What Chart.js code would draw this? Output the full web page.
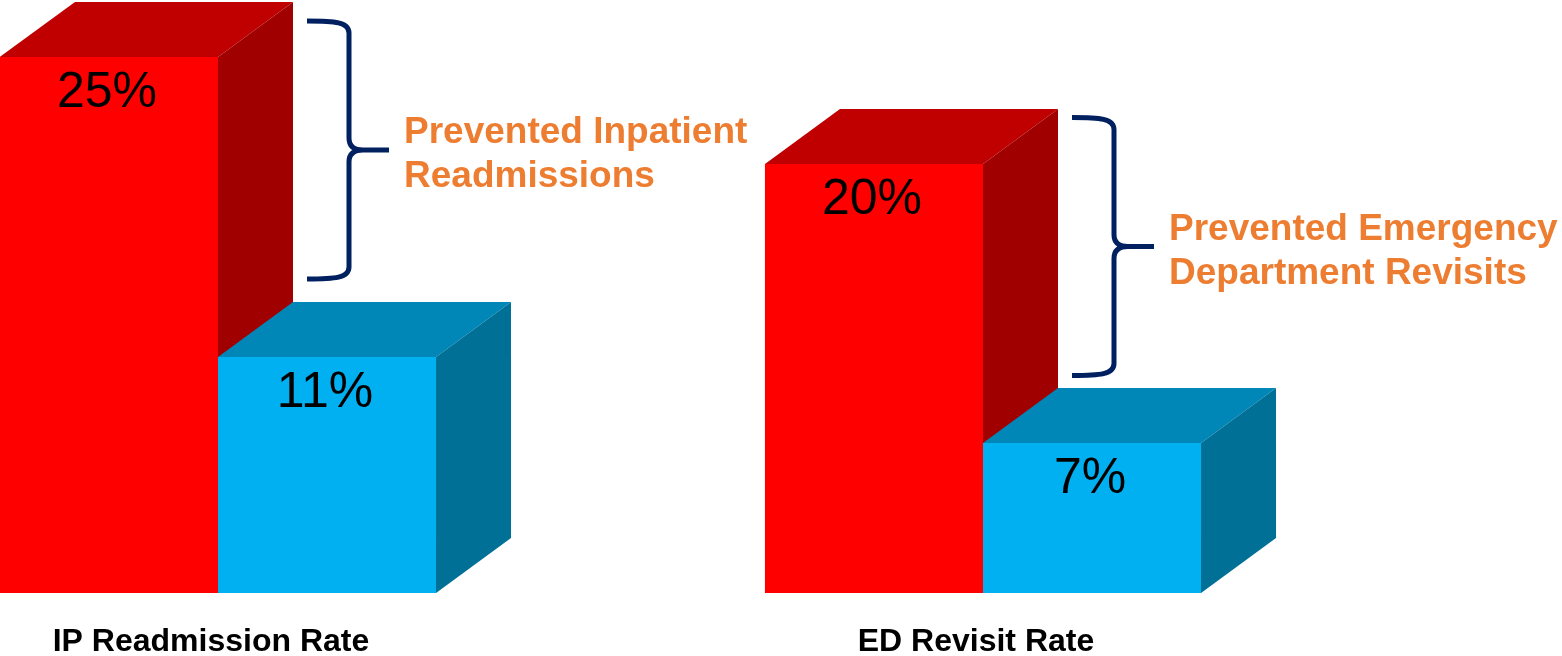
<!DOCTYPE html>
<html>
<head>
<meta charset="utf-8">
<script src="https://cdn.jsdelivr.net/npm/chart.js@4.4.1/dist/chart.umd.min.js"></script>
<style>
  html, body { margin: 0; padding: 0; background: #fff; overflow: hidden; }
  #wrap { width: 1562px; height: 656px; position: relative; }
</style>
</head>
<body>
<div id="wrap"><canvas id="rateChart"></canvas></div>
<script>
// chart data
const categories = ['IP Readmission Rate', 'ED Revisit Rate'];
const beforeRates = [25, 20];
const afterRates = [11, 7];
const braceNotes = [
    ['Prevented Inpatient', 'Readmissions'],
    ['Prevented Emergency', 'Department Revisits']
];

const FONT = '"Liberation Sans", Arial, sans-serif';
const depthX = 75;
const depthY = -55;
const faces = [
    { front: '#FF0000', top: '#C00000', side: '#A00000' },
    { front: '#00B0F0', top: '#0087B7', side: '#007097' }
];

function poly(ctx, pts, color) {
    ctx.fillStyle = color;
    ctx.beginPath();
    ctx.moveTo(pts[0][0], pts[0][1]);
    for (let k = 1; k < pts.length; k++) ctx.lineTo(pts[k][0], pts[k][1]);
    ctx.closePath();
    ctx.fill();
}

function drawBrace(ctx, x0, top, bot, mid) {
    const xv = x0 + 42;   // vertical stroke
    const xt = x0 + 82;   // tip
    ctx.beginPath();
    ctx.moveTo(x0, top);
    ctx.bezierCurveTo(x0 + 28, top, xv, top + 1, xv, top + 12);
    ctx.lineTo(xv, mid - 12);
    ctx.quadraticCurveTo(xv, mid, xv + 14, mid);
    ctx.lineTo(xt, mid);
    ctx.moveTo(xv + 14, mid);
    ctx.quadraticCurveTo(xv, mid, xv, mid + 12);
    ctx.lineTo(xv, bot - 12);
    ctx.bezierCurveTo(xv, bot - 1, x0 + 28, bot, x0, bot);
    ctx.stroke();
    return xt;
}

// draws the 3D boxes, value labels, braces and category names
const cubePlugin = {
    id: 'cubes',
    afterDatasetsDraw(chart) {
        const ctx = chart.ctx;
        ctx.save();
        categories.forEach((cat, i) => {
            const boxes = chart.data.datasets.map((ds, d) => {
                const bar = chart.getDatasetMeta(d).data[i];
                const p = bar.getProps(['x', 'y', 'base', 'width'], true);
                const l = p.x - p.width / 2, r = p.x + p.width / 2;
                const f = faces[d];
                poly(ctx, [[l, p.y], [r, p.y], [r, p.base], [l, p.base]], f.front);
                poly(ctx, [[l, p.y], [l + depthX, p.y + depthY], [r + depthX, p.y + depthY], [r, p.y]], f.top);
                poly(ctx, [[r, p.y], [r + depthX, p.y + depthY], [r + depthX, p.base + depthY], [r, p.base]], f.side);
                return { l, r, x: p.x, y: p.y, value: ds.data[i] };
            });

            // value labels
            ctx.fillStyle = '#000';
            ctx.font = '50px ' + FONT;
            ctx.textAlign = 'center';
            ctx.textBaseline = 'alphabetic';
            boxes.forEach(b => ctx.fillText(b.value + '%', b.x - 2, b.y + 50));

            // brace between the two bar tops
            const red = boxes[0], blue = boxes[1];
            const mid = (red.y + blue.y) / 2 - 57;
            ctx.strokeStyle = '#002060';
            ctx.lineWidth = 5;
            ctx.lineCap = 'butt';
            const tipX = drawBrace(ctx, red.r + depthX + 14, mid - 129, mid + 129, mid);

            ctx.fillStyle = '#ED7D31';
            ctx.font = 'bold 37px ' + FONT;
            ctx.textAlign = 'left';
            ctx.fillText(braceNotes[i][0], tipX + 15, mid - 7);
            ctx.fillText(braceNotes[i][1], tipX + 15, mid + 37);

            // category name
            ctx.fillStyle = '#000';
            ctx.font = 'bold 32px ' + FONT;
            ctx.textAlign = 'center';
            ctx.fillText(cat, chart.scales.x.getPixelForValue(i) - 7, 651);
        });
        ctx.restore();
    }
};

new Chart(document.getElementById('rateChart'), {
    type: 'bar',
    data: {
        labels: categories,
        datasets: [
            { label: 'Before', data: beforeRates, backgroundColor: faces[0].front, clip: false },
            { label: 'After', data: afterRates, backgroundColor: faces[1].front, clip: false }
        ]
    },
    options: {
        responsive: true,
        maintainAspectRatio: false,
        animation: false,
        layout: { padding: { left: 218, right: 579, top: 14, bottom: 63 } },
        datasets: { bar: { barPercentage: 1, categoryPercentage: 0.57 } },
        scales: {
            x: { display: false, offset: false },
            y: { display: false, min: 0, max: 27 }
        },
        plugins: {
            legend: { display: false },
            tooltip: { enabled: false },
            title: { display: false }
        }
    },
    plugins: [cubePlugin]
});
</script>
</body>
</html>
